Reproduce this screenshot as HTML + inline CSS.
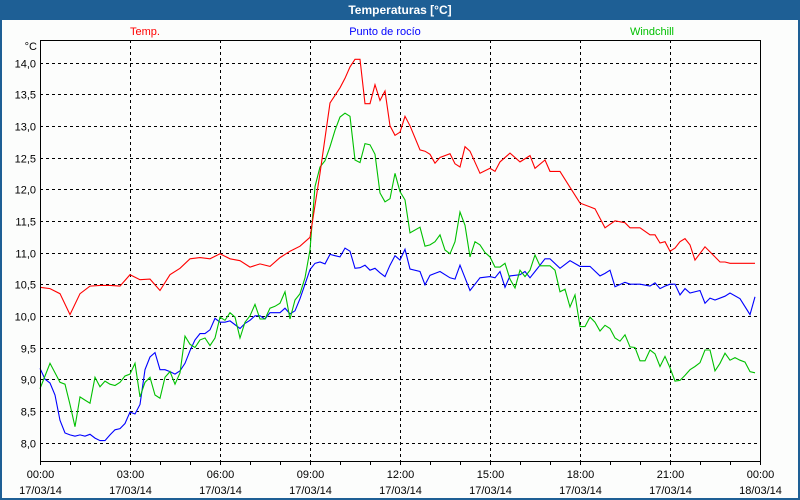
<!DOCTYPE html>
<html><head><meta charset="utf-8"><style>
html,body{margin:0;padding:0;background:#1e5f95;}
svg{display:block;font-family:"Liberation Sans",Tahoma,sans-serif;}
</style></head><body>
<svg id="chart" width="800" height="500" xmlns="http://www.w3.org/2000/svg">
<rect x="0" y="0" width="800" height="500" fill="#1e5f95"/>
<rect x="2" y="20" width="796" height="478" fill="#fcfdfc"/>
<text x="400" y="14" text-anchor="middle" font-size="12" font-weight="bold" fill="#fff">Temperaturas [°C]</text>
<text x="145" y="35" text-anchor="middle" font-size="11" fill="#ff0000">Temp.</text>
<text x="385" y="35" text-anchor="middle" font-size="11" fill="#0000ff">Punto de rocío</text>
<text x="652" y="35" text-anchor="middle" font-size="11" fill="#00c000">Windchill</text>
<text x="37" y="50" text-anchor="end" font-size="11" fill="#000">°C</text>
<g id="grid"></g><g id="series"></g><g id="axes"></g>
</svg>
<script>
const yTicks=[8.0,8.5,9.0,9.5,10.0,10.5,11.0,11.5,12.0,12.5,13.0,13.5,14.0];
const xTickHours=[0,3,6,9,12,15,18,21,24];
const xTickTimes=["00:00","03:00","06:00","09:00","12:00","15:00","18:00","21:00","00:00"];
const xTickDates=["17/03/14","17/03/14","17/03/14","17/03/14","17/03/14","17/03/14","17/03/14","17/03/14","18/03/14"];
// minutes since 00:00
const tempMin=[0,20,40,60,80,100,120,140,160,180,200,220,240,260,280,300,320,340,360,380,400,420,440,460,480,500,520,540,560,580,600,610,620,630,640,650,660,670,680,690,700,710,720,730,740,760,770,780,790,800,820,830,840,850,860,880,900,910,920,940,960,980,990,1010,1020,1040,1060,1080,1100,1110,1130,1150,1170,1180,1200,1220,1230,1240,1250,1260,1270,1280,1290,1300,1310,1330,1350,1360,1370,1380,1400,1410,1430];
const tempVal=[10.45,10.43,10.35,10.02,10.35,10.47,10.48,10.48,10.47,10.65,10.57,10.58,10.4,10.65,10.75,10.9,10.92,10.9,10.98,10.9,10.87,10.77,10.82,10.78,10.92,11.02,11.1,11.24,12.25,13.36,13.6,13.75,13.93,14.05,14.05,13.35,13.35,13.65,13.4,13.55,13.0,12.85,12.9,13.15,13.0,12.62,12.6,12.55,12.41,12.5,12.56,12.4,12.35,12.67,12.6,12.25,12.33,12.28,12.43,12.57,12.43,12.53,12.33,12.46,12.28,12.28,12.03,11.78,11.72,11.69,11.39,11.5,11.47,11.39,11.39,11.28,11.28,11.15,11.17,11.02,11.07,11.17,11.22,11.12,10.88,11.09,10.93,10.85,10.85,10.83,10.83,10.83,10.83];
const dewMin=[0,10,20,30,40,50,60,70,80,90,100,110,120,130,140,150,160,170,180,190,200,210,220,230,240,250,260,270,280,290,300,310,320,330,340,350,360,370,380,400,410,420,430,440,450,460,470,480,490,500,510,520,530,540,550,560,570,580,590,600,610,620,630,640,650,660,670,680,690,700,710,720,730,740,760,770,780,790,800,820,830,840,850,860,870,880,900,910,920,930,940,950,960,970,980,990,1000,1010,1020,1040,1060,1080,1100,1120,1130,1140,1150,1170,1180,1200,1220,1230,1240,1250,1260,1270,1280,1290,1300,1320,1330,1340,1350,1370,1380,1400,1420,1430];
const dewVal=[9.17,9.0,8.94,8.75,8.35,8.15,8.12,8.1,8.12,8.1,8.13,8.07,8.03,8.03,8.12,8.2,8.22,8.3,8.48,8.45,8.6,9.15,9.35,9.42,9.15,9.15,9.12,9.08,9.13,9.25,9.45,9.62,9.72,9.72,9.78,9.96,9.9,9.9,9.92,9.8,9.88,9.93,10.0,10.0,9.95,10.05,10.05,10.05,10.12,10.03,10.08,10.27,10.5,10.73,10.83,10.85,10.82,10.97,10.95,10.93,11.07,11.02,10.75,10.76,10.8,10.72,10.75,10.68,10.62,10.8,10.95,10.88,11.05,10.74,10.7,10.49,10.64,10.67,10.7,10.6,10.58,10.8,10.6,10.4,10.5,10.6,10.62,10.6,10.7,10.45,10.63,10.64,10.65,10.7,10.6,10.7,10.8,10.9,10.9,10.75,10.87,10.78,10.78,10.63,10.67,10.72,10.46,10.53,10.5,10.5,10.47,10.52,10.43,10.47,10.5,10.5,10.33,10.43,10.36,10.4,10.2,10.28,10.25,10.31,10.36,10.27,10.02,10.3,10.27,10.1,10.1,10.1];
const windMin=[0,10,20,30,40,50,60,70,80,90,100,110,120,130,140,150,160,170,180,190,200,210,220,230,240,250,260,270,280,290,300,310,320,330,340,350,360,370,380,390,400,410,420,430,440,450,460,470,480,490,500,510,520,530,540,550,560,570,580,590,600,610,620,630,640,650,660,670,680,690,700,710,720,730,740,760,770,780,790,800,810,820,830,840,850,860,870,880,890,900,910,920,930,940,950,960,970,980,990,1000,1010,1020,1030,1040,1050,1060,1070,1080,1090,1100,1110,1120,1130,1140,1150,1160,1170,1180,1190,1200,1210,1220,1230,1240,1250,1260,1270,1280,1290,1300,1310,1320,1330,1340,1350,1360,1370,1380,1390,1400,1410,1420,1430];
const windVal=[8.85,9.05,9.25,9.1,8.95,8.92,8.6,8.25,8.72,8.67,8.62,9.03,8.88,8.97,8.92,8.9,8.95,9.05,9.08,9.25,8.72,8.95,9.03,8.75,8.7,9.03,9.12,8.92,9.1,9.68,9.55,9.5,9.62,9.65,9.53,9.65,9.98,9.93,10.05,9.98,9.65,9.9,10.0,10.18,9.95,9.95,10.12,10.15,10.2,10.38,9.95,10.25,10.35,10.6,11.04,12.04,12.35,12.45,12.67,12.93,13.14,13.2,13.15,12.46,12.42,12.72,12.7,12.55,11.94,11.8,11.85,12.25,11.96,11.83,11.31,11.4,11.1,11.12,11.17,11.28,11.04,10.98,11.17,11.64,11.43,10.93,11.17,11.12,11.0,10.93,10.77,10.77,10.83,10.58,10.44,10.72,10.62,10.72,10.96,10.79,10.79,10.79,10.72,10.38,10.42,10.14,10.33,9.83,9.83,9.98,9.9,9.76,9.85,9.8,9.65,9.6,9.7,9.51,9.5,9.29,9.29,9.46,9.4,9.2,9.36,9.18,8.97,8.98,9.06,9.15,9.2,9.26,9.46,9.46,9.13,9.25,9.41,9.3,9.34,9.3,9.27,9.12,9.1];

const X0=40,X1=760,YT=40,YB=461;
const xScale=m=>X0+(m/1440)*(X1-X0);
const yScale=v=>62.5+(14-v)*(380/6);
const NS="http://www.w3.org/2000/svg";
function mk(tag,attrs,parent){const e=document.createElementNS(NS,tag);for(const k in attrs)e.setAttribute(k,attrs[k]);parent.appendChild(e);return e;}
const grid=document.getElementById('grid'),series=document.getElementById('series'),axes=document.getElementById('axes');
yTicks.forEach(v=>{
  const y=Math.round(yScale(v))+0.5;
  const l=mk('line',{x1:X0,x2:X1,y1:y,y2:y,stroke:'#000','stroke-dasharray':'3,3'},grid);
  
  
  const t=mk('text',{x:36,y:y+4,'text-anchor':'end','font-size':'11',fill:'#000'},axes);
  t.textContent=v.toFixed(1).replace('.',',');
  
  
});
xTickHours.forEach((h,i)=>{
  const x=Math.round(xScale(h*60))+0.5;
  if(h>0&&h<24){
    const l=mk('line',{x1:x,x2:x,y1:YT,y2:YB,stroke:'#000','stroke-dasharray':'3,3'},grid);
    
    
  }
  const t1=mk('text',{x:x,y:478,'text-anchor':'middle','font-size':'11',fill:'#000'},axes);
  t1.textContent=xTickTimes[i];
  
  
  const t2=mk('text',{x:x,y:494,'text-anchor':'middle','font-size':'11',fill:'#000'},axes);
  t2.textContent=xTickDates[i];
  
  
});
for(let h=0;h<=24;h++){
  const x=Math.round(xScale(h*60))+0.5;
  const tk=mk('line',{x1:x,x2:x,y1:YB,y2:YB+4,stroke:'#000'},axes);
  
  
}
const frame=mk('path',{d:`M${X0+0.5},${YB+0.5}V${YT+0.5}H${X1+0.5}V${YB+0.5}H${X0+0.5}`,fill:'none',stroke:'#000'},axes);


function line(ms,vs,color,name){
  const d=ms.map((m,i)=>(i?'L':'M')+xScale(m).toFixed(1)+','+yScale(vs[i]).toFixed(1)).join('');
  const p=mk('path',{d:d,fill:'none',stroke:color,'stroke-width':'1.1'},series);
  
  
}
line(dewMin,dewVal,'#0000ff','dew-point-line');
line(windMin,windVal,'#00c000','windchill-line');
line(tempMin,tempVal,'#ff0000','temp-line');
</script>
</body></html>
